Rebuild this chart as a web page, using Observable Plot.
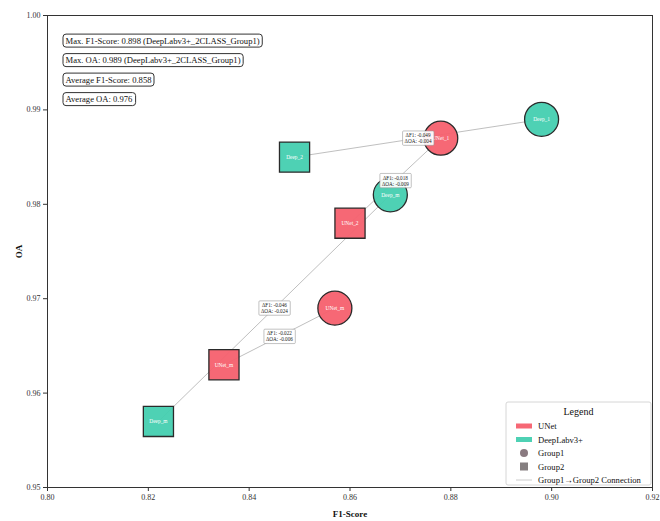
<!DOCTYPE html>
<html>
<head>
<meta charset="utf-8">
<script src="https://cdn.jsdelivr.net/npm/d3@7"></script>
<script src="https://cdn.jsdelivr.net/npm/@observablehq/plot@0.6"></script>
<style>
  html, body { margin: 0; padding: 0; background: #fff; }
  svg { display: block; }
</style>
</head>
<body>
<div id="chart"></div>
<script>
// ---- data ----
const pairModels = ["DeepLabv3+", "UNet", "DeepLabv3+", "UNet"];
const g1Labels = ["Deep_1", "UNet_1", "Deep_m", "UNet_m"];
const g1F1 = [0.898, 0.878, 0.868, 0.857];
const g1OA = [0.989, 0.987, 0.981, 0.969];
const g2Labels = ["Deep_2", "UNet_2", "Deep_m", "UNet_m"];
const g2F1 = [0.849, 0.860, 0.822, 0.835];
const g2OA = [0.985, 0.978, 0.957, 0.963];
const statLines = [
  "Max. F1-Score: 0.898 (DeepLabv3+_2CLASS_Group1)",
  "Max. OA: 0.989 (DeepLabv3+_2CLASS_Group1)",
  "Average F1-Score: 0.858",
  "Average OA: 0.976"
];
const xTicks = [0.80, 0.82, 0.84, 0.86, 0.88, 0.90, 0.92];
const yTicks = [0.95, 0.96, 0.97, 0.98, 0.99, 1.00];
const modelNames = ["UNet", "DeepLabv3+"];
const modelColors = ["#F5606E", "#45CFB0"];
const legendItems = ["UNet", "DeepLabv3+", "Group1", "Group2", "Group1\u2192Group2 Connection"];

// ---- derived tables ----
const g1 = g1F1.map((f, i) => ({model: pairModels[i], label: g1Labels[i], f1: f, oa: g1OA[i]}));
const g2 = g2F1.map((f, i) => ({model: pairModels[i], label: g2Labels[i], f1: f, oa: g2OA[i]}));
const pairs = g1.map((a, i) => {
  const b = g2[i];
  const dF = b.f1 - a.f1, dO = b.oa - a.oa;
  return {
    model: a.model, x1: a.f1, y1: a.oa, x2: b.f1, y2: b.oa,
    mx: (a.f1 + b.f1) / 2, my: (a.oa + b.oa) / 2,
    text: `\u0394F1: ${dF >= 0 ? "+" : ""}${dF.toFixed(3)}\n\u0394OA: ${dO >= 0 ? "+" : ""}${dO.toFixed(3)}`
  };
});
const colorOf = m => modelColors[modelNames.indexOf(m)];

const font = "'Liberation Serif', 'DejaVu Serif', serif";

const svg = Plot.plot({
  width: 660,
  height: 521,
  marginLeft: 47,
  marginRight: 8,
  marginTop: 15,
  marginBottom: 34,
  style: {fontFamily: font, fontSize: "8px", background: "white", color: "#333"},
  x: {domain: [0.80, 0.92]},
  y: {domain: [0.95, 1.00]},
  color: {domain: modelNames, range: modelColors},
  marks: [
    Plot.frame({stroke: "#333", strokeWidth: 1}),
    Plot.axisX({ticks: xTicks, tickFormat: d3.format(".2f"), tickSize: 4, tickPadding: 3,
      label: "F1-Score", labelAnchor: "center", labelArrow: "none", labelOffset: 29}),
    Plot.axisY({ticks: yTicks, tickFormat: d3.format(".2f"), tickSize: 4, tickPadding: 3,
      label: "OA", labelAnchor: "center", labelArrow: "none", labelOffset: 32}),
    Plot.link(pairs, {x1: "x1", y1: "y1", x2: "x2", y2: "y2", stroke: "#b8b8b8", strokeWidth: 1, strokeOpacity: 0.9}),
    Plot.dot(g1, {x: "f1", y: "oa", r: 17, symbol: "circle", fill: "model", fillOpacity: 0.95, stroke: "#2a2a2a", strokeWidth: 1.3}),
    Plot.dot(g2, {x: "f1", y: "oa", r: 17, symbol: "square", fill: "model", fillOpacity: 0.95, stroke: "#2a2a2a", strokeWidth: 1.3}),
    Plot.text(g1.concat(g2), {x: "f1", y: "oa", text: "label", fill: "white", fontSize: 5.4}),
    Plot.text(pairs, {x: "mx", y: "my", text: "text", fontSize: 5.2, fill: "#222", lineHeight: 1.15, className: "delta"}),
    ...statLines.map((s, i) => Plot.text([s], {
      text: d => d, frameAnchor: "top-left", textAnchor: "start", dx: 18, dy: 22 + i * 19.5,
      fontSize: 8.6, fill: "#111", className: "stat"
    }))
  ]
});

document.getElementById("chart").appendChild(svg);

// axis label styling
d3.select(svg).selectAll('[aria-label="x-axis label"] text, [aria-label="y-axis label"] text')
  .style("font-weight", "bold").style("font-size", "9px").attr("fill", "#111");

// boxes behind annotation texts
function boxText(selector, pad, style) {
  d3.select(svg).selectAll(selector + " text").each(function() {
    const bb = this.getBBox();
    const r = document.createElementNS("http://www.w3.org/2000/svg", "rect");
    r.setAttribute("x", bb.x - pad[0]);
    r.setAttribute("y", bb.y - pad[1]);
    r.setAttribute("width", bb.width + 2 * pad[0]);
    r.setAttribute("height", bb.height + 2 * pad[1]);
    const t = this.getAttribute("transform");
    if (t) r.setAttribute("transform", t);
    for (const k in style) r.setAttribute(k, style[k]);
    this.parentNode.insertBefore(r, this);
  });
}
boxText("g.delta", [2, 1.2], {fill: "white", "fill-opacity": 0.92, stroke: "#999", "stroke-width": 0.6, rx: 1});
boxText("g.stat", [2.5, 1.5], {fill: "white", stroke: "#333", "stroke-width": 1, rx: 3});

// legend (bottom right, inside the frame)
const L = d3.select(svg).append("g").attr("font-family", font).attr("text-anchor", "start");
const lx = 506, ly = 402, lw = 145, lh = 83;
L.append("rect").attr("x", lx).attr("y", ly).attr("width", lw).attr("height", lh)
  .attr("fill", "white").attr("fill-opacity", 0.85).attr("stroke", "#ccc").attr("stroke-width", 0.8).attr("rx", 2);
L.append("text").attr("x", lx + lw / 2).attr("y", ly + 13).attr("text-anchor", "middle")
  .attr("font-size", 10).attr("fill", "#111").text("Legend");
legendItems.forEach((name, i) => {
  const cy = ly + 24 + i * 13.5;
  const px = lx + 10;
  if (i < 2) {
    L.append("rect").attr("x", px).attr("y", cy - 2.5).attr("width", 16).attr("height", 5)
      .attr("fill", colorOf(name)).attr("opacity", 0.95);
  } else if (i === 2) {
    L.append("circle").attr("cx", px + 8).attr("cy", cy).attr("r", 4).attr("fill", "#8a7a80");
  } else if (i === 3) {
    L.append("rect").attr("x", px + 4).attr("y", cy - 4).attr("width", 8).attr("height", 8).attr("fill", "#857f80");
  } else {
    L.append("line").attr("x1", px).attr("x2", px + 16).attr("y1", cy).attr("y2", cy)
      .attr("stroke", "#ccc").attr("stroke-width", 1);
  }
  L.append("text").attr("x", px + 22).attr("y", cy).attr("dy", "0.35em").attr("text-anchor", "start")
    .attr("font-size", 8.6).attr("fill", "#111").text(name);
});
</script>
</body>
</html>
